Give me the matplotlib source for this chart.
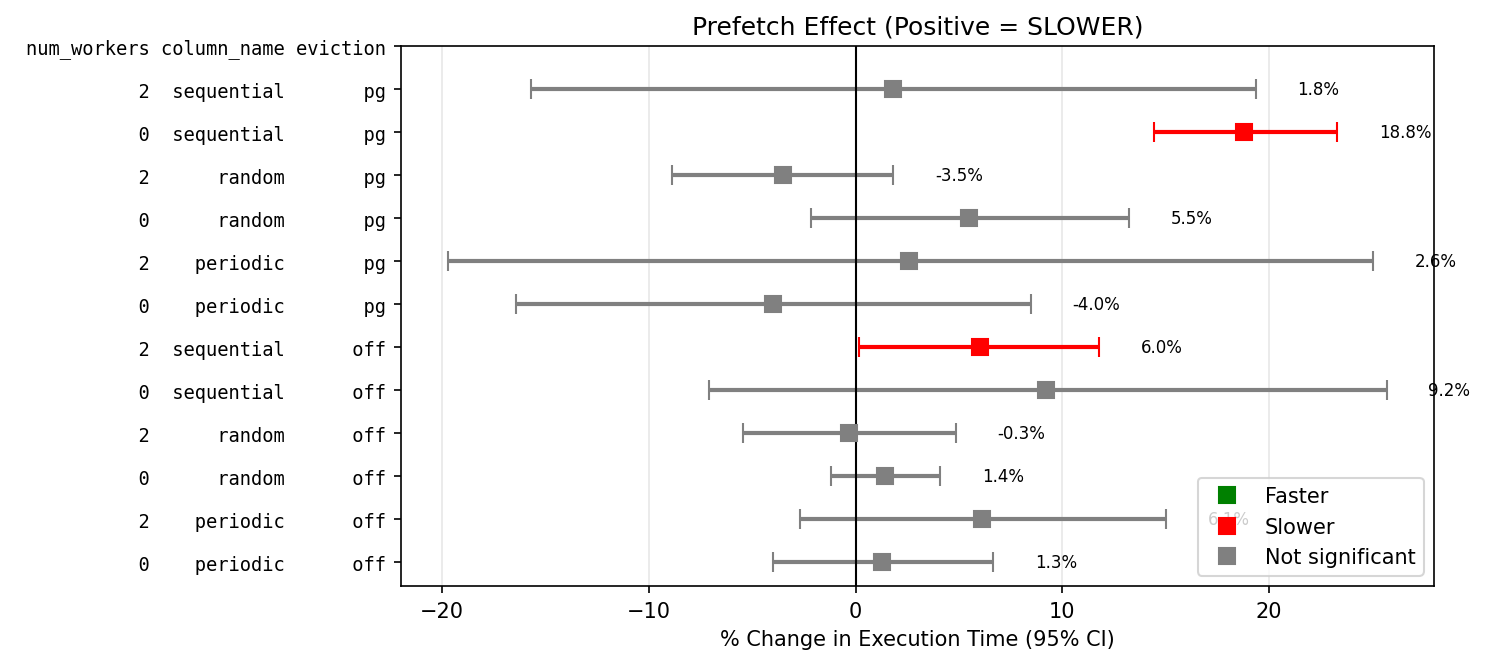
import matplotlib
matplotlib.use("Agg")
import matplotlib.pyplot as plt
from matplotlib.lines import Line2D

# rows from top to bottom
num_workers = [2, 0, 2, 0, 2, 0, 2, 0, 2, 0, 2, 0]
column_name = ["sequential", "sequential", "random", "random", "periodic", "periodic",
               "sequential", "sequential", "random", "random", "periodic", "periodic"]
eviction = ["pg"] * 6 + ["off"] * 6
mean = [1.8, 18.8, -3.5, 5.5, 2.6, -4.0, 6.0, 9.2, -0.3, 1.4, 6.1, 1.3]
ci_low = [-15.7, 14.45, -8.88, -2.15, -19.71, -16.41, 0.19, -7.11, -5.42, -1.19, -2.69, -3.98]
ci_high = [19.36, 23.3, 1.83, 13.23, 25.03, 8.46, 11.79, 25.7, 4.84, 4.1, 15.03, 6.66]
status = ["ns", "slower", "ns", "ns", "ns", "ns", "slower", "ns", "ns", "ns", "ns", "ns"]

colors = {"faster": "green", "slower": "red", "ns": "gray"}

header = f"{'num_workers':>11} {'column_name':>11} {'eviction':>8}"
labels = [f"{w:>11} {c:>11} {e:>8}" for w, c, e in zip(num_workers, column_name, eviction)]

fig = plt.figure(figsize=(9.9, 4.433), dpi=150)
ax = fig.add_axes([0.270, 0.1173, 0.6957, 0.812])

n = len(mean)
for i in range(n):
    y = n - 1 - i
    col = colors[status[i]]
    ax.errorbar(mean[i], y,
                xerr=[[mean[i] - ci_low[i]], [ci_high[i] - mean[i]]],
                fmt="s", color=col, markersize=8, capsize=5, elinewidth=2)
    ax.text(ci_high[i] + 2, y, f"{mean[i]:.1f}%", va="center", ha="left", fontsize=8)

ax.axvline(0, color="black", linewidth=1)
ax.grid(axis="x", alpha=0.3)

ax.set_yticks(list(range(n + 1)))
ax.set_yticklabels(labels[::-1] + [header], family="DejaVu Sans Mono", fontsize=9)

ax.set_xlabel("% Change in Execution Time (95% CI)")
ax.set_title("Prefetch Effect (Positive = SLOWER)")

handles = [
    Line2D([], [], marker="s", linestyle="none", color="green", markersize=8, label="Faster"),
    Line2D([], [], marker="s", linestyle="none", color="red", markersize=8, label="Slower"),
    Line2D([], [], marker="s", linestyle="none", color="gray", markersize=8, label="Not significant"),
]
ax.legend(handles=handles, loc="lower right")

fig.savefig("out.png", dpi=150)
